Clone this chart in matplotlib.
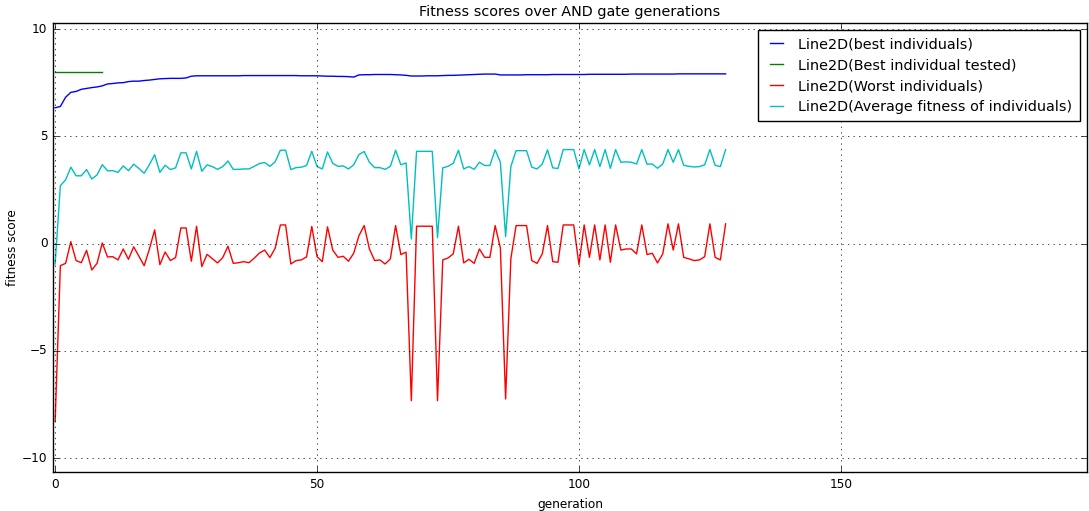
import matplotlib
matplotlib.use("Agg")
import matplotlib.pyplot as plt

plt.style.use("classic")

# fitness of the best individual in every generation
best_scores = [6.33, 6.39, 6.82, 7.05, 7.09, 7.19, 7.23, 7.27, 7.30, 7.35,
               7.44, 7.46, 7.49, 7.50, 7.55, 7.57, 7.57, 7.60, 7.62, 7.65,
               7.68, 7.69, 7.70, 7.70, 7.70, 7.72, 7.80, 7.82, 7.82, 7.82,
               7.82, 7.82, 7.82, 7.82, 7.82, 7.82, 7.83, 7.83, 7.83, 7.83,
               7.83, 7.83, 7.83, 7.83, 7.83, 7.83, 7.83, 7.82, 7.82, 7.82,
               7.82, 7.81, 7.80, 7.80, 7.79, 7.79, 7.78, 7.76, 7.86, 7.87,
               7.87, 7.88, 7.88, 7.88, 7.88, 7.87, 7.86, 7.84, 7.81, 7.81,
               7.81, 7.82, 7.82, 7.82, 7.83, 7.84, 7.84, 7.85, 7.86, 7.87,
               7.88, 7.89, 7.90, 7.90, 7.90, 7.86, 7.86, 7.86, 7.86, 7.86,
               7.87, 7.87, 7.87, 7.87, 7.87, 7.88, 7.88, 7.88, 7.88, 7.88,
               7.88, 7.88, 7.89, 7.89, 7.89, 7.89, 7.89, 7.89, 7.89, 7.89,
               7.90, 7.90, 7.90, 7.90, 7.90, 7.90, 7.90, 7.90, 7.90, 7.91,
               7.91, 7.91, 7.91, 7.91, 7.91, 7.91, 7.91, 7.91, 7.91]

# best individual found by the test run (first generations only)
tested_scores = [8.0, 8.0, 8.0, 8.0, 8.0, 8.0, 8.0, 8.0, 8.0, 8.0]

# worst individual in every generation
worst_scores = [-8.28, -1.03, -0.92, 0.09, -0.79, -0.89, -0.31, -1.23, -0.92, 0.03,
                -0.62, -0.61, -0.76, -0.25, -0.73, -0.15, -0.59, -1.03, -0.25, 0.64,
                -0.98, -0.39, -0.79, -0.65, 0.73, 0.73, -0.82, 0.81, -1.07, -0.50,
                -0.70, -0.90, -0.65, -0.12, -0.92, -0.89, -0.84, -0.89, -0.68, -0.44,
                -0.30, -0.65, -0.22, 0.87, 0.87, -0.95, -0.79, -0.76, -0.62, 0.80,
                -0.61, -0.84, 0.78, -0.30, -0.64, -0.59, -0.82, -0.45, 0.37, 0.84,
                -0.25, -0.79, -0.76, -0.95, -0.71, 0.84, -0.51, -0.40, -7.32, 0.81,
                0.81, 0.81, 0.81, -7.32, -0.76, -0.67, -0.48, 0.81, -0.90, -0.73,
                -0.92, -0.25, -0.64, -0.64, 0.84, -0.20, -7.24, -0.70, 0.84, 0.84,
                0.84, -0.79, -0.92, -0.48, 0.84, -0.84, -0.87, 0.87, 0.87, 0.87,
                -0.98, 0.87, -0.64, 0.87, -0.76, 0.87, -0.87, 0.87, -0.30, -0.25,
                -0.25, -0.48, 0.87, -0.51, -0.45, -0.90, -0.48, 0.92, -0.30, 0.92,
                -0.64, -0.71, -0.79, -0.76, -0.61, 0.92, -0.64, -0.76, 0.92]

# average fitness over the population in every generation
average_scores = [-0.95, 2.70, 2.97, 3.56, 3.16, 3.16, 3.45, 3.01, 3.20, 3.68,
                  3.39, 3.40, 3.32, 3.62, 3.40, 3.70, 3.50, 3.28, 3.68, 4.14,
                  3.32, 3.65, 3.45, 3.53, 4.23, 4.23, 3.48, 4.30, 3.37, 3.67,
                  3.59, 3.46, 3.59, 3.85, 3.46, 3.46, 3.48, 3.48, 3.60, 3.73,
                  3.78, 3.60, 3.81, 4.35, 4.35, 3.45, 3.54, 3.56, 3.64, 4.30,
                  3.59, 3.48, 4.27, 3.74, 3.60, 3.62, 3.48, 3.67, 4.15, 4.29,
                  3.79, 3.54, 3.54, 3.46, 3.60, 4.35, 3.67, 3.76, 0.22, 4.30,
                  4.30, 4.30, 4.30, 0.27, 3.53, 3.60, 3.74, 4.35, 3.48, 3.59,
                  3.46, 3.79, 3.64, 3.64, 4.37, 3.79, 0.33, 3.59, 4.33, 4.33,
                  4.33, 3.56, 3.48, 3.71, 4.37, 3.53, 3.50, 4.38, 4.38, 4.38,
                  3.48, 4.38, 3.67, 4.38, 3.59, 4.38, 3.51, 4.38, 3.79, 3.81,
                  3.79, 3.71, 4.38, 3.70, 3.71, 3.51, 3.71, 4.38, 3.79, 4.38,
                  3.65, 3.60, 3.57, 3.59, 3.67, 4.38, 3.65, 3.59, 4.38]

fig = plt.figure(figsize=(10.89, 5.11), dpi=100)
fig.patch.set_facecolor("white")
ax = fig.add_axes([0.0487, 0.076, 0.9495, 0.879])

ax.plot(range(len(best_scores)), best_scores, "b", label="Line2D(best individuals)")
ax.plot(range(len(tested_scores)), tested_scores, "g", label="Line2D(Best individual tested)")
ax.plot(range(len(worst_scores)), worst_scores, "r", label="Line2D(Worst individuals)")
ax.plot(range(len(average_scores)), average_scores, "c",
        label="Line2D(Average fitness of individuals)")

ax.set_xlim(-0.4, 197)
ax.set_ylim(-10.65, 10.28)
ax.set_xticks([0, 50, 100, 150])
ax.set_yticks([-10, -5, 0, 5, 10])
ax.tick_params(labelsize=8.7)
ax.grid(True)

ax.set_title("Fitness scores over AND gate generations", fontsize=10.4)
ax.set_xlabel("generation", fontsize=8.7)
ax.set_ylabel("fitness score", fontsize=8.7, labelpad=2)
ax.legend(loc="upper right", fontsize=10.4, labelspacing=0.47, handlelength=1.5,
          borderpad=0.5)

fig.savefig("out.png", dpi=100, facecolor="white")
